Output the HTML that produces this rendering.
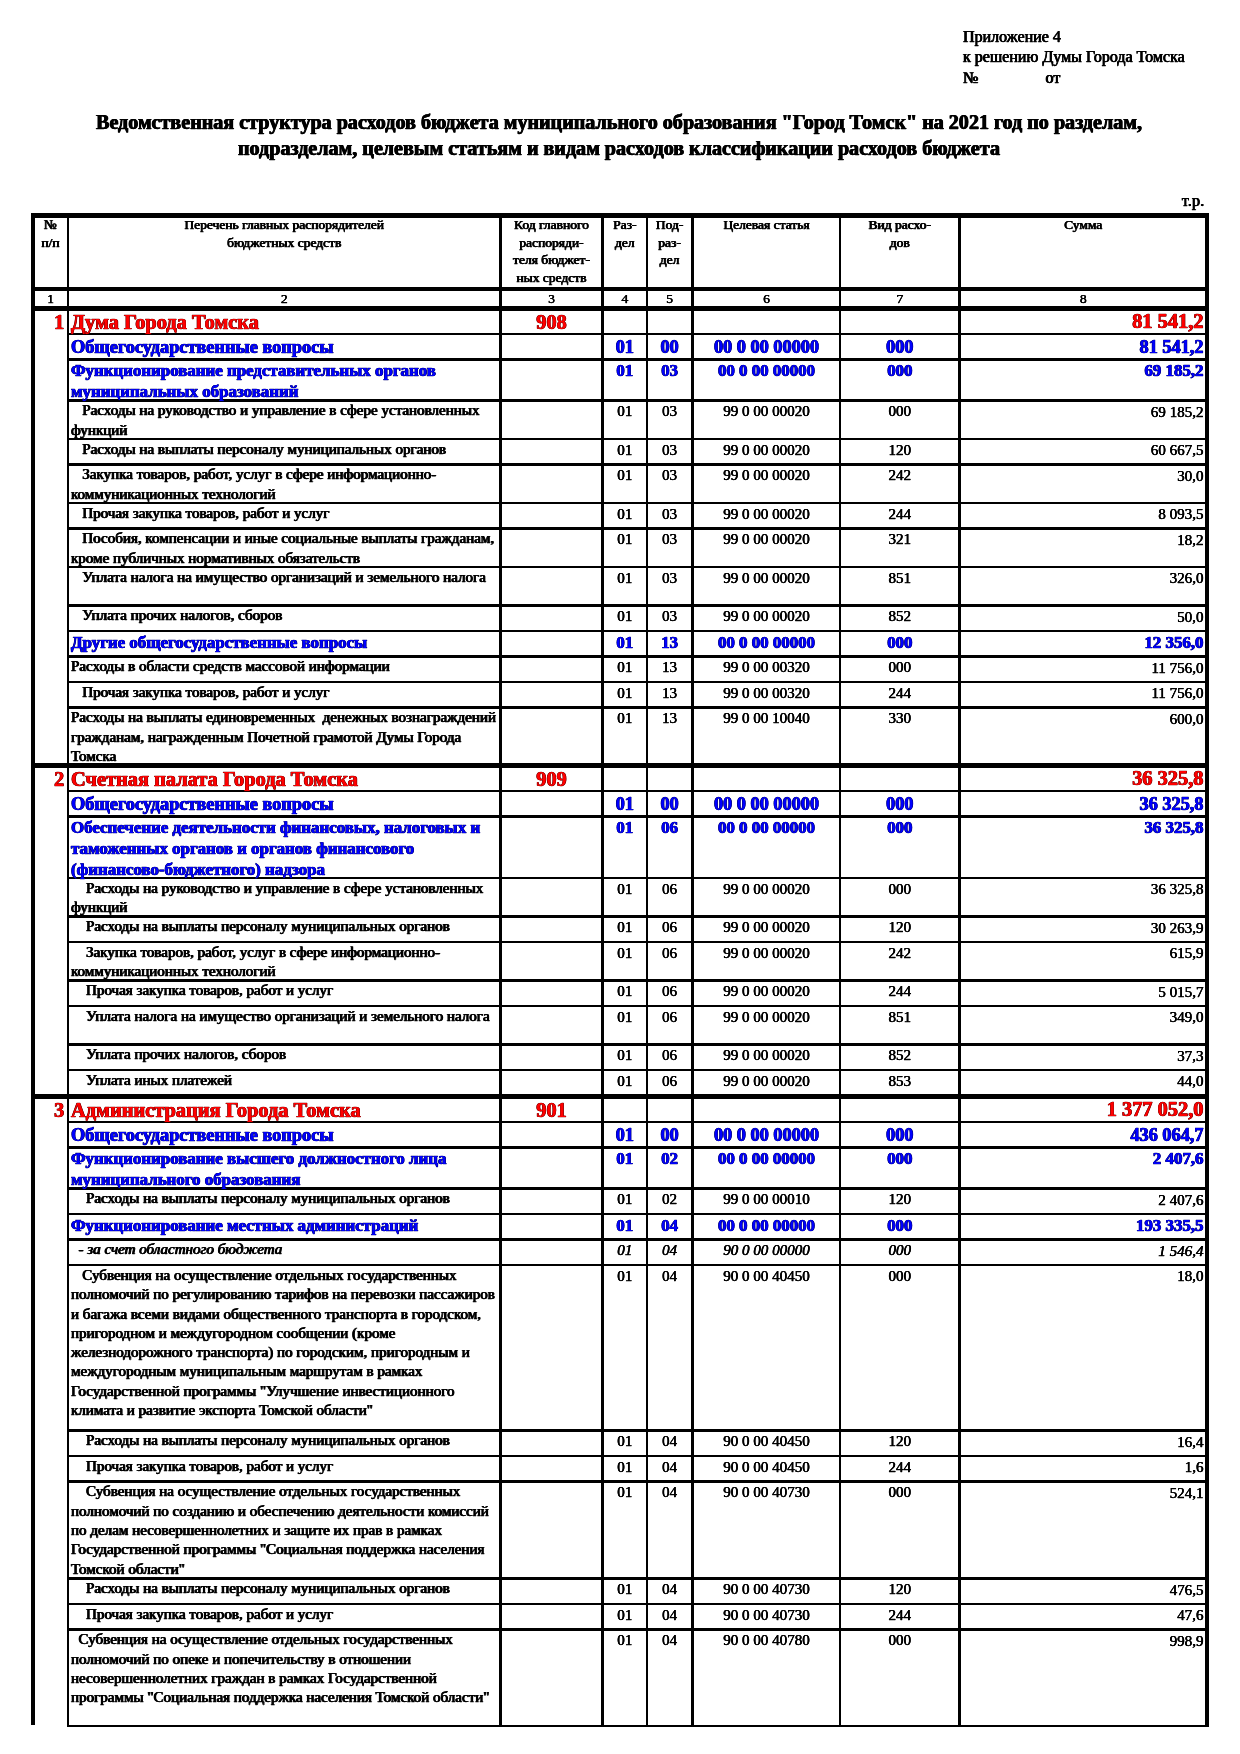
<!DOCTYPE html>
<html lang="ru"><head><meta charset="utf-8"><title>Приложение 4</title>
<style>
html,body{margin:0;padding:0;background:#fff;}
body{width:1240px;height:1754px;position:relative;overflow:hidden;font-family:"Liberation Serif",serif;}
.t{position:absolute;white-space:pre;font-family:"Liberation Serif",serif;}
svg{position:absolute;left:0;top:0;}
#tx{position:absolute;left:0;top:0;width:1240px;height:1754px;will-change:transform;}
</style></head><body>
<svg width="1240" height="1754" viewBox="0 0 1240 1754" fill="#000">
<rect x="31.00" y="213.00" width="1178.00" height="5.00"/>
<rect x="31.00" y="287.00" width="1178.00" height="4.00"/>
<rect x="31.00" y="306.00" width="1178.00" height="5.00"/>
<rect x="31.00" y="213.00" width="4.00" height="1512.00"/>
<rect x="67.00" y="213.00" width="2.00" height="1514.00"/>
<rect x="499.00" y="213.00" width="3.00" height="1514.00"/>
<rect x="601.00" y="213.00" width="3.00" height="1514.00"/>
<rect x="646.00" y="213.00" width="2.00" height="1514.00"/>
<rect x="691.00" y="213.00" width="3.00" height="1514.00"/>
<rect x="839.00" y="213.00" width="2.00" height="1514.00"/>
<rect x="958.00" y="213.00" width="3.00" height="1514.00"/>
<rect x="1205.00" y="213.00" width="4.00" height="1514.00"/>
<rect x="67.00" y="333.00" width="1142.00" height="2.00"/>
<rect x="67.00" y="358.00" width="1142.00" height="3.00"/>
<rect x="67.00" y="399.00" width="1142.00" height="3.00"/>
<rect x="67.00" y="438.00" width="1142.00" height="2.00"/>
<rect x="67.00" y="463.00" width="1142.00" height="3.00"/>
<rect x="67.00" y="502.00" width="1142.00" height="2.00"/>
<rect x="67.00" y="527.00" width="1142.00" height="3.00"/>
<rect x="67.00" y="566.00" width="1142.00" height="2.00"/>
<rect x="67.00" y="604.00" width="1142.00" height="3.00"/>
<rect x="67.00" y="630.00" width="1142.00" height="2.00"/>
<rect x="67.00" y="655.00" width="1142.00" height="3.00"/>
<rect x="67.00" y="681.00" width="1142.00" height="2.00"/>
<rect x="67.00" y="706.00" width="1142.00" height="3.00"/>
<rect x="31.00" y="763.00" width="1178.00" height="5.00"/>
<rect x="67.00" y="790.00" width="1142.00" height="2.00"/>
<rect x="67.00" y="815.00" width="1142.00" height="3.00"/>
<rect x="67.00" y="877.00" width="1142.00" height="2.00"/>
<rect x="67.00" y="915.00" width="1142.00" height="3.00"/>
<rect x="67.00" y="941.00" width="1142.00" height="2.00"/>
<rect x="67.00" y="979.00" width="1142.00" height="3.00"/>
<rect x="67.00" y="1005.00" width="1142.00" height="2.00"/>
<rect x="67.00" y="1043.00" width="1142.00" height="3.00"/>
<rect x="67.00" y="1069.00" width="1142.00" height="2.00"/>
<rect x="31.00" y="1094.00" width="1178.00" height="5.00"/>
<rect x="67.00" y="1121.00" width="1142.00" height="2.00"/>
<rect x="67.00" y="1146.00" width="1142.00" height="3.00"/>
<rect x="67.00" y="1187.00" width="1142.00" height="3.00"/>
<rect x="67.00" y="1213.00" width="1142.00" height="2.00"/>
<rect x="67.00" y="1238.00" width="1142.00" height="3.00"/>
<rect x="67.00" y="1264.00" width="1142.00" height="2.00"/>
<rect x="67.00" y="1429.00" width="1142.00" height="3.00"/>
<rect x="67.00" y="1455.00" width="1142.00" height="2.00"/>
<rect x="67.00" y="1480.00" width="1142.00" height="3.00"/>
<rect x="67.00" y="1577.00" width="1142.00" height="3.00"/>
<rect x="67.00" y="1603.00" width="1142.00" height="2.00"/>
<rect x="67.00" y="1628.00" width="1142.00" height="3.00"/>
<rect x="67.00" y="1725.00" width="1142.00" height="2.00"/>
</svg>
<div id="tx">
<div class="t " style="top:217.14px;font-size:13.5px;line-height:16.20px;color:#000;text-shadow:0.45px 0 0 #000,-0.45px 0 0 #000;-webkit-text-stroke:0.25px #000;left:-649.50px;width:1400px;text-align:center;">№</div>
<div class="t " style="top:234.74px;font-size:13.5px;line-height:16.20px;color:#000;text-shadow:0.45px 0 0 #000,-0.45px 0 0 #000;-webkit-text-stroke:0.25px #000;left:-649.50px;width:1400px;text-align:center;">п/п</div>
<div class="t " style="top:217.14px;font-size:13.5px;line-height:16.20px;color:#000;text-shadow:0.45px 0 0 #000,-0.45px 0 0 #000;-webkit-text-stroke:0.25px #000;left:-415.75px;width:1400px;text-align:center;">Перечень главных распорядителей</div>
<div class="t " style="top:234.74px;font-size:13.5px;line-height:16.20px;color:#000;text-shadow:0.45px 0 0 #000,-0.45px 0 0 #000;-webkit-text-stroke:0.25px #000;left:-415.75px;width:1400px;text-align:center;">бюджетных средств</div>
<div class="t " style="top:217.14px;font-size:13.5px;line-height:16.20px;color:#000;text-shadow:0.45px 0 0 #000,-0.45px 0 0 #000;-webkit-text-stroke:0.25px #000;left:-148.50px;width:1400px;text-align:center;">Код главного</div>
<div class="t " style="top:234.74px;font-size:13.5px;line-height:16.20px;color:#000;text-shadow:0.45px 0 0 #000,-0.45px 0 0 #000;-webkit-text-stroke:0.25px #000;left:-148.50px;width:1400px;text-align:center;">распоряди-</div>
<div class="t " style="top:252.34px;font-size:13.5px;line-height:16.20px;color:#000;text-shadow:0.45px 0 0 #000,-0.45px 0 0 #000;-webkit-text-stroke:0.25px #000;left:-148.50px;width:1400px;text-align:center;">теля бюджет-</div>
<div class="t " style="top:269.94px;font-size:13.5px;line-height:16.20px;color:#000;text-shadow:0.45px 0 0 #000,-0.45px 0 0 #000;-webkit-text-stroke:0.25px #000;left:-148.50px;width:1400px;text-align:center;">ных средств</div>
<div class="t " style="top:217.14px;font-size:13.5px;line-height:16.20px;color:#000;text-shadow:0.45px 0 0 #000,-0.45px 0 0 #000;-webkit-text-stroke:0.25px #000;left:-75.20px;width:1400px;text-align:center;">Раз-</div>
<div class="t " style="top:234.74px;font-size:13.5px;line-height:16.20px;color:#000;text-shadow:0.45px 0 0 #000,-0.45px 0 0 #000;-webkit-text-stroke:0.25px #000;left:-75.20px;width:1400px;text-align:center;">дел</div>
<div class="t " style="top:217.14px;font-size:13.5px;line-height:16.20px;color:#000;text-shadow:0.45px 0 0 #000,-0.45px 0 0 #000;-webkit-text-stroke:0.25px #000;left:-30.40px;width:1400px;text-align:center;">Под-</div>
<div class="t " style="top:234.74px;font-size:13.5px;line-height:16.20px;color:#000;text-shadow:0.45px 0 0 #000,-0.45px 0 0 #000;-webkit-text-stroke:0.25px #000;left:-30.40px;width:1400px;text-align:center;">раз-</div>
<div class="t " style="top:252.34px;font-size:13.5px;line-height:16.20px;color:#000;text-shadow:0.45px 0 0 #000,-0.45px 0 0 #000;-webkit-text-stroke:0.25px #000;left:-30.40px;width:1400px;text-align:center;">дел</div>
<div class="t " style="top:217.14px;font-size:13.5px;line-height:16.20px;color:#000;text-shadow:0.45px 0 0 #000,-0.45px 0 0 #000;-webkit-text-stroke:0.25px #000;left:66.50px;width:1400px;text-align:center;">Целевая статья</div>
<div class="t " style="top:217.14px;font-size:13.5px;line-height:16.20px;color:#000;text-shadow:0.45px 0 0 #000,-0.45px 0 0 #000;-webkit-text-stroke:0.25px #000;left:199.80px;width:1400px;text-align:center;">Вид расхо-</div>
<div class="t " style="top:234.74px;font-size:13.5px;line-height:16.20px;color:#000;text-shadow:0.45px 0 0 #000,-0.45px 0 0 #000;-webkit-text-stroke:0.25px #000;left:199.80px;width:1400px;text-align:center;">дов</div>
<div class="t " style="top:217.14px;font-size:13.5px;line-height:16.20px;color:#000;text-shadow:0.45px 0 0 #000,-0.45px 0 0 #000;-webkit-text-stroke:0.25px #000;left:383.25px;width:1400px;text-align:center;">Сумма</div>
<div class="t " style="top:290.64px;font-size:13.5px;line-height:16.20px;color:#000;text-shadow:0.23px 0 0 #000,-0.23px 0 0 #000;-webkit-text-stroke:0.25px #000;left:-649.50px;width:1400px;text-align:center;">1</div>
<div class="t " style="top:290.64px;font-size:13.5px;line-height:16.20px;color:#000;text-shadow:0.23px 0 0 #000,-0.23px 0 0 #000;-webkit-text-stroke:0.25px #000;left:-415.75px;width:1400px;text-align:center;">2</div>
<div class="t " style="top:290.64px;font-size:13.5px;line-height:16.20px;color:#000;text-shadow:0.23px 0 0 #000,-0.23px 0 0 #000;-webkit-text-stroke:0.25px #000;left:-148.50px;width:1400px;text-align:center;">3</div>
<div class="t " style="top:290.64px;font-size:13.5px;line-height:16.20px;color:#000;text-shadow:0.23px 0 0 #000,-0.23px 0 0 #000;-webkit-text-stroke:0.25px #000;left:-75.20px;width:1400px;text-align:center;">4</div>
<div class="t " style="top:290.64px;font-size:13.5px;line-height:16.20px;color:#000;text-shadow:0.23px 0 0 #000,-0.23px 0 0 #000;-webkit-text-stroke:0.25px #000;left:-30.40px;width:1400px;text-align:center;">5</div>
<div class="t " style="top:290.64px;font-size:13.5px;line-height:16.20px;color:#000;text-shadow:0.23px 0 0 #000,-0.23px 0 0 #000;-webkit-text-stroke:0.25px #000;left:66.50px;width:1400px;text-align:center;">6</div>
<div class="t " style="top:290.64px;font-size:13.5px;line-height:16.20px;color:#000;text-shadow:0.23px 0 0 #000,-0.23px 0 0 #000;-webkit-text-stroke:0.25px #000;left:199.80px;width:1400px;text-align:center;">7</div>
<div class="t " style="top:290.64px;font-size:13.5px;line-height:16.20px;color:#000;text-shadow:0.23px 0 0 #000,-0.23px 0 0 #000;-webkit-text-stroke:0.25px #000;left:383.25px;width:1400px;text-align:center;">8</div>
<div class="t " style="top:27.00px;font-size:16px;line-height:19.20px;color:#000;text-shadow:0.40px 0 0 #000,-0.40px 0 0 #000;-webkit-text-stroke:0.25px #000;left:963.00px;">Приложение 4</div>
<div class="t " style="top:46.80px;font-size:16px;line-height:19.20px;color:#000;text-shadow:0.40px 0 0 #000,-0.40px 0 0 #000;-webkit-text-stroke:0.25px #000;left:963.00px;">к решению Думы Города Томска</div>
<div class="t " style="top:67.50px;font-size:16px;line-height:19.20px;color:#000;text-shadow:0.40px 0 0 #000,-0.40px 0 0 #000;-webkit-text-stroke:0.25px #000;left:963.00px;">№</div>
<div class="t " style="top:67.50px;font-size:16px;line-height:19.20px;color:#000;text-shadow:0.40px 0 0 #000,-0.40px 0 0 #000;-webkit-text-stroke:0.25px #000;left:1045.50px;">от</div>
<div class="t " style="top:110.16px;font-size:20.1px;line-height:24.12px;color:#000;font-weight:bold;text-shadow:0.50px 0 0 #000,-0.50px 0 0 #000;-webkit-text-stroke:0.25px #000;left:-81.00px;width:1400px;text-align:center;">Ведомственная структура расходов бюджета муниципального образования &quot;Город Томск&quot; на 2021 год по разделам,</div>
<div class="t " style="top:136.16px;font-size:20.1px;line-height:24.12px;color:#000;font-weight:bold;text-shadow:0.50px 0 0 #000,-0.50px 0 0 #000;-webkit-text-stroke:0.25px #000;left:-81.00px;width:1400px;text-align:center;">подразделам, целевым статьям и видам расходов классификации расходов бюджета</div>
<div class="t " style="top:191.04px;font-size:16.6px;line-height:19.92px;color:#000;text-shadow:0.30px 0 0 #000,-0.30px 0 0 #000;-webkit-text-stroke:0.25px #000;right:35.70px;">т.р.</div>
<div class="t " style="top:309.98px;font-size:20.4px;line-height:24.48px;color:#ff0000;font-weight:bold;text-shadow:0.45px 0 0 #700000,-0.45px 0 0 #700000;-webkit-text-stroke:0.6px #700000;paint-order:stroke fill;right:1175.70px;">1</div>
<div class="t " style="top:309.98px;font-size:20.4px;line-height:24.48px;color:#ff0000;font-weight:bold;text-shadow:0.45px 0 0 #700000,-0.45px 0 0 #700000;-webkit-text-stroke:0.6px #700000;paint-order:stroke fill;left:71.00px;">Дума Города Томска</div>
<div class="t " style="top:309.98px;font-size:20.4px;line-height:24.48px;color:#ff0000;font-weight:bold;text-shadow:0.45px 0 0 #700000,-0.45px 0 0 #700000;-webkit-text-stroke:0.6px #700000;paint-order:stroke fill;left:-148.50px;width:1400px;text-align:center;">908</div>
<div class="t " style="top:309.38px;font-size:20.4px;line-height:24.48px;color:#ff0000;font-weight:bold;text-shadow:0.45px 0 0 #700000,-0.45px 0 0 #700000;-webkit-text-stroke:0.6px #700000;paint-order:stroke fill;right:36.50px;">81 541,2</div>
<div class="t " style="top:337.34px;font-size:18.3px;line-height:21.96px;color:#0000ff;font-weight:bold;text-shadow:0.45px 0 0 #000070,-0.45px 0 0 #000070;-webkit-text-stroke:0.6px #000070;paint-order:stroke fill;left:71.00px;">Общегосударственные вопросы</div>
<div class="t " style="top:336.54px;font-size:18.3px;line-height:21.96px;color:#0000ff;font-weight:bold;text-shadow:0.45px 0 0 #000070,-0.45px 0 0 #000070;-webkit-text-stroke:0.6px #000070;paint-order:stroke fill;left:-75.20px;width:1400px;text-align:center;">01</div>
<div class="t " style="top:336.54px;font-size:18.3px;line-height:21.96px;color:#0000ff;font-weight:bold;text-shadow:0.45px 0 0 #000070,-0.45px 0 0 #000070;-webkit-text-stroke:0.6px #000070;paint-order:stroke fill;left:-30.40px;width:1400px;text-align:center;">00</div>
<div class="t " style="top:336.54px;font-size:18.3px;line-height:21.96px;color:#0000ff;font-weight:bold;text-shadow:0.45px 0 0 #000070,-0.45px 0 0 #000070;-webkit-text-stroke:0.6px #000070;paint-order:stroke fill;left:66.50px;width:1400px;text-align:center;">00 0 00 00000</div>
<div class="t " style="top:336.54px;font-size:18.3px;line-height:21.96px;color:#0000ff;font-weight:bold;text-shadow:0.45px 0 0 #000070,-0.45px 0 0 #000070;-webkit-text-stroke:0.6px #000070;paint-order:stroke fill;left:199.80px;width:1400px;text-align:center;">000</div>
<div class="t " style="top:337.04px;font-size:18.3px;line-height:21.96px;color:#0000ff;font-weight:bold;text-shadow:0.45px 0 0 #000070,-0.45px 0 0 #000070;-webkit-text-stroke:0.6px #000070;paint-order:stroke fill;right:36.50px;">81 541,2</div>
<div class="t " style="top:361.46px;font-size:16.9px;line-height:20.28px;color:#0000ff;font-weight:bold;text-shadow:0.45px 0 0 #000070,-0.45px 0 0 #000070;-webkit-text-stroke:0.6px #000070;paint-order:stroke fill;left:71.00px;">Функционирование представительных органов</div>
<div class="t " style="top:382.21px;font-size:16.9px;line-height:20.28px;color:#0000ff;font-weight:bold;text-shadow:0.45px 0 0 #000070,-0.45px 0 0 #000070;-webkit-text-stroke:0.6px #000070;paint-order:stroke fill;left:71.00px;">муниципальных образований</div>
<div class="t " style="top:361.46px;font-size:16.9px;line-height:20.28px;color:#0000ff;font-weight:bold;text-shadow:0.45px 0 0 #000070,-0.45px 0 0 #000070;-webkit-text-stroke:0.6px #000070;paint-order:stroke fill;left:-75.20px;width:1400px;text-align:center;">01</div>
<div class="t " style="top:361.46px;font-size:16.9px;line-height:20.28px;color:#0000ff;font-weight:bold;text-shadow:0.45px 0 0 #000070,-0.45px 0 0 #000070;-webkit-text-stroke:0.6px #000070;paint-order:stroke fill;left:-30.40px;width:1400px;text-align:center;">03</div>
<div class="t " style="top:361.46px;font-size:16.9px;line-height:20.28px;color:#0000ff;font-weight:bold;text-shadow:0.45px 0 0 #000070,-0.45px 0 0 #000070;-webkit-text-stroke:0.6px #000070;paint-order:stroke fill;left:66.50px;width:1400px;text-align:center;">00 0 00 00000</div>
<div class="t " style="top:361.46px;font-size:16.9px;line-height:20.28px;color:#0000ff;font-weight:bold;text-shadow:0.45px 0 0 #000070,-0.45px 0 0 #000070;-webkit-text-stroke:0.6px #000070;paint-order:stroke fill;left:199.80px;width:1400px;text-align:center;">000</div>
<div class="t " style="top:361.46px;font-size:16.9px;line-height:20.28px;color:#0000ff;font-weight:bold;text-shadow:0.45px 0 0 #000070,-0.45px 0 0 #000070;-webkit-text-stroke:0.6px #000070;paint-order:stroke fill;right:36.50px;">69 185,2</div>
<div class="t " style="top:401.49px;font-size:15.05px;line-height:18.06px;color:#000;text-shadow:0.55px 0 0 #000,-0.55px 0 0 #000;-webkit-text-stroke:0.25px #000;left:71.00px;">   Расходы на руководство и управление в сфере установленных</div>
<div class="t " style="top:420.79px;font-size:15.05px;line-height:18.06px;color:#000;text-shadow:0.55px 0 0 #000,-0.55px 0 0 #000;-webkit-text-stroke:0.25px #000;left:71.00px;">функций</div>
<div class="t " style="top:402.19px;font-size:15.05px;line-height:18.06px;color:#000;text-shadow:0.17px 0 0 #000,-0.17px 0 0 #000;-webkit-text-stroke:0.25px #000;left:-75.20px;width:1400px;text-align:center;">01</div>
<div class="t " style="top:402.19px;font-size:15.05px;line-height:18.06px;color:#000;text-shadow:0.17px 0 0 #000,-0.17px 0 0 #000;-webkit-text-stroke:0.25px #000;left:-30.40px;width:1400px;text-align:center;">03</div>
<div class="t " style="top:402.19px;font-size:15.05px;line-height:18.06px;color:#000;text-shadow:0.17px 0 0 #000,-0.17px 0 0 #000;-webkit-text-stroke:0.25px #000;left:66.50px;width:1400px;text-align:center;">99 0 00 00020</div>
<div class="t " style="top:402.19px;font-size:15.05px;line-height:18.06px;color:#000;text-shadow:0.17px 0 0 #000,-0.17px 0 0 #000;-webkit-text-stroke:0.25px #000;left:199.80px;width:1400px;text-align:center;">000</div>
<div class="t " style="top:402.99px;font-size:15.05px;line-height:18.06px;color:#000;text-shadow:0.17px 0 0 #000,-0.17px 0 0 #000;-webkit-text-stroke:0.25px #000;right:36.50px;">69 185,2</div>
<div class="t " style="top:439.99px;font-size:15.05px;line-height:18.06px;color:#000;text-shadow:0.55px 0 0 #000,-0.55px 0 0 #000;-webkit-text-stroke:0.25px #000;left:71.00px;">   Расходы на выплаты персоналу муниципальных органов</div>
<div class="t " style="top:440.69px;font-size:15.05px;line-height:18.06px;color:#000;text-shadow:0.17px 0 0 #000,-0.17px 0 0 #000;-webkit-text-stroke:0.25px #000;left:-75.20px;width:1400px;text-align:center;">01</div>
<div class="t " style="top:440.69px;font-size:15.05px;line-height:18.06px;color:#000;text-shadow:0.17px 0 0 #000,-0.17px 0 0 #000;-webkit-text-stroke:0.25px #000;left:-30.40px;width:1400px;text-align:center;">03</div>
<div class="t " style="top:440.69px;font-size:15.05px;line-height:18.06px;color:#000;text-shadow:0.17px 0 0 #000,-0.17px 0 0 #000;-webkit-text-stroke:0.25px #000;left:66.50px;width:1400px;text-align:center;">99 0 00 00020</div>
<div class="t " style="top:440.69px;font-size:15.05px;line-height:18.06px;color:#000;text-shadow:0.17px 0 0 #000,-0.17px 0 0 #000;-webkit-text-stroke:0.25px #000;left:199.80px;width:1400px;text-align:center;">120</div>
<div class="t " style="top:441.49px;font-size:15.05px;line-height:18.06px;color:#000;text-shadow:0.17px 0 0 #000,-0.17px 0 0 #000;-webkit-text-stroke:0.25px #000;right:36.50px;">60 667,5</div>
<div class="t " style="top:465.49px;font-size:15.05px;line-height:18.06px;color:#000;text-shadow:0.55px 0 0 #000,-0.55px 0 0 #000;-webkit-text-stroke:0.25px #000;left:71.00px;">   Закупка товаров, работ, услуг в сфере информационно-</div>
<div class="t " style="top:484.79px;font-size:15.05px;line-height:18.06px;color:#000;text-shadow:0.55px 0 0 #000,-0.55px 0 0 #000;-webkit-text-stroke:0.25px #000;left:71.00px;">коммуникационных технологий</div>
<div class="t " style="top:466.19px;font-size:15.05px;line-height:18.06px;color:#000;text-shadow:0.17px 0 0 #000,-0.17px 0 0 #000;-webkit-text-stroke:0.25px #000;left:-75.20px;width:1400px;text-align:center;">01</div>
<div class="t " style="top:466.19px;font-size:15.05px;line-height:18.06px;color:#000;text-shadow:0.17px 0 0 #000,-0.17px 0 0 #000;-webkit-text-stroke:0.25px #000;left:-30.40px;width:1400px;text-align:center;">03</div>
<div class="t " style="top:466.19px;font-size:15.05px;line-height:18.06px;color:#000;text-shadow:0.17px 0 0 #000,-0.17px 0 0 #000;-webkit-text-stroke:0.25px #000;left:66.50px;width:1400px;text-align:center;">99 0 00 00020</div>
<div class="t " style="top:466.19px;font-size:15.05px;line-height:18.06px;color:#000;text-shadow:0.17px 0 0 #000,-0.17px 0 0 #000;-webkit-text-stroke:0.25px #000;left:199.80px;width:1400px;text-align:center;">242</div>
<div class="t " style="top:466.99px;font-size:15.05px;line-height:18.06px;color:#000;text-shadow:0.17px 0 0 #000,-0.17px 0 0 #000;-webkit-text-stroke:0.25px #000;right:36.50px;">30,0</div>
<div class="t " style="top:503.99px;font-size:15.05px;line-height:18.06px;color:#000;text-shadow:0.55px 0 0 #000,-0.55px 0 0 #000;-webkit-text-stroke:0.25px #000;left:71.00px;">   Прочая закупка товаров, работ и услуг</div>
<div class="t " style="top:504.69px;font-size:15.05px;line-height:18.06px;color:#000;text-shadow:0.17px 0 0 #000,-0.17px 0 0 #000;-webkit-text-stroke:0.25px #000;left:-75.20px;width:1400px;text-align:center;">01</div>
<div class="t " style="top:504.69px;font-size:15.05px;line-height:18.06px;color:#000;text-shadow:0.17px 0 0 #000,-0.17px 0 0 #000;-webkit-text-stroke:0.25px #000;left:-30.40px;width:1400px;text-align:center;">03</div>
<div class="t " style="top:504.69px;font-size:15.05px;line-height:18.06px;color:#000;text-shadow:0.17px 0 0 #000,-0.17px 0 0 #000;-webkit-text-stroke:0.25px #000;left:66.50px;width:1400px;text-align:center;">99 0 00 00020</div>
<div class="t " style="top:504.69px;font-size:15.05px;line-height:18.06px;color:#000;text-shadow:0.17px 0 0 #000,-0.17px 0 0 #000;-webkit-text-stroke:0.25px #000;left:199.80px;width:1400px;text-align:center;">244</div>
<div class="t " style="top:505.49px;font-size:15.05px;line-height:18.06px;color:#000;text-shadow:0.17px 0 0 #000,-0.17px 0 0 #000;-webkit-text-stroke:0.25px #000;right:36.50px;">8 093,5</div>
<div class="t " style="top:529.49px;font-size:15.05px;line-height:18.06px;color:#000;text-shadow:0.55px 0 0 #000,-0.55px 0 0 #000;-webkit-text-stroke:0.25px #000;left:71.00px;">   Пособия, компенсации и иные социальные выплаты гражданам,</div>
<div class="t " style="top:548.79px;font-size:15.05px;line-height:18.06px;color:#000;text-shadow:0.55px 0 0 #000,-0.55px 0 0 #000;-webkit-text-stroke:0.25px #000;left:71.00px;">кроме публичных нормативных обязательств</div>
<div class="t " style="top:530.19px;font-size:15.05px;line-height:18.06px;color:#000;text-shadow:0.17px 0 0 #000,-0.17px 0 0 #000;-webkit-text-stroke:0.25px #000;left:-75.20px;width:1400px;text-align:center;">01</div>
<div class="t " style="top:530.19px;font-size:15.05px;line-height:18.06px;color:#000;text-shadow:0.17px 0 0 #000,-0.17px 0 0 #000;-webkit-text-stroke:0.25px #000;left:-30.40px;width:1400px;text-align:center;">03</div>
<div class="t " style="top:530.19px;font-size:15.05px;line-height:18.06px;color:#000;text-shadow:0.17px 0 0 #000,-0.17px 0 0 #000;-webkit-text-stroke:0.25px #000;left:66.50px;width:1400px;text-align:center;">99 0 00 00020</div>
<div class="t " style="top:530.19px;font-size:15.05px;line-height:18.06px;color:#000;text-shadow:0.17px 0 0 #000,-0.17px 0 0 #000;-webkit-text-stroke:0.25px #000;left:199.80px;width:1400px;text-align:center;">321</div>
<div class="t " style="top:530.99px;font-size:15.05px;line-height:18.06px;color:#000;text-shadow:0.17px 0 0 #000,-0.17px 0 0 #000;-webkit-text-stroke:0.25px #000;right:36.50px;">18,2</div>
<div class="t " style="top:567.99px;font-size:15.05px;line-height:18.06px;color:#000;text-shadow:0.55px 0 0 #000,-0.55px 0 0 #000;-webkit-text-stroke:0.25px #000;left:71.00px;">   Уплата налога на имущество организаций и земельного налога</div>
<div class="t " style="top:568.69px;font-size:15.05px;line-height:18.06px;color:#000;text-shadow:0.17px 0 0 #000,-0.17px 0 0 #000;-webkit-text-stroke:0.25px #000;left:-75.20px;width:1400px;text-align:center;">01</div>
<div class="t " style="top:568.69px;font-size:15.05px;line-height:18.06px;color:#000;text-shadow:0.17px 0 0 #000,-0.17px 0 0 #000;-webkit-text-stroke:0.25px #000;left:-30.40px;width:1400px;text-align:center;">03</div>
<div class="t " style="top:568.69px;font-size:15.05px;line-height:18.06px;color:#000;text-shadow:0.17px 0 0 #000,-0.17px 0 0 #000;-webkit-text-stroke:0.25px #000;left:66.50px;width:1400px;text-align:center;">99 0 00 00020</div>
<div class="t " style="top:568.69px;font-size:15.05px;line-height:18.06px;color:#000;text-shadow:0.17px 0 0 #000,-0.17px 0 0 #000;-webkit-text-stroke:0.25px #000;left:199.80px;width:1400px;text-align:center;">851</div>
<div class="t " style="top:569.49px;font-size:15.05px;line-height:18.06px;color:#000;text-shadow:0.17px 0 0 #000,-0.17px 0 0 #000;-webkit-text-stroke:0.25px #000;right:36.50px;">326,0</div>
<div class="t " style="top:606.49px;font-size:15.05px;line-height:18.06px;color:#000;text-shadow:0.55px 0 0 #000,-0.55px 0 0 #000;-webkit-text-stroke:0.25px #000;left:71.00px;">   Уплата прочих налогов, сборов</div>
<div class="t " style="top:607.19px;font-size:15.05px;line-height:18.06px;color:#000;text-shadow:0.17px 0 0 #000,-0.17px 0 0 #000;-webkit-text-stroke:0.25px #000;left:-75.20px;width:1400px;text-align:center;">01</div>
<div class="t " style="top:607.19px;font-size:15.05px;line-height:18.06px;color:#000;text-shadow:0.17px 0 0 #000,-0.17px 0 0 #000;-webkit-text-stroke:0.25px #000;left:-30.40px;width:1400px;text-align:center;">03</div>
<div class="t " style="top:607.19px;font-size:15.05px;line-height:18.06px;color:#000;text-shadow:0.17px 0 0 #000,-0.17px 0 0 #000;-webkit-text-stroke:0.25px #000;left:66.50px;width:1400px;text-align:center;">99 0 00 00020</div>
<div class="t " style="top:607.19px;font-size:15.05px;line-height:18.06px;color:#000;text-shadow:0.17px 0 0 #000,-0.17px 0 0 #000;-webkit-text-stroke:0.25px #000;left:199.80px;width:1400px;text-align:center;">852</div>
<div class="t " style="top:607.99px;font-size:15.05px;line-height:18.06px;color:#000;text-shadow:0.17px 0 0 #000,-0.17px 0 0 #000;-webkit-text-stroke:0.25px #000;right:36.50px;">50,0</div>
<div class="t " style="top:632.96px;font-size:16.9px;line-height:20.28px;color:#0000ff;font-weight:bold;text-shadow:0.45px 0 0 #000070,-0.45px 0 0 #000070;-webkit-text-stroke:0.6px #000070;paint-order:stroke fill;left:71.00px;">Другие общегосударственные вопросы</div>
<div class="t " style="top:632.96px;font-size:16.9px;line-height:20.28px;color:#0000ff;font-weight:bold;text-shadow:0.45px 0 0 #000070,-0.45px 0 0 #000070;-webkit-text-stroke:0.6px #000070;paint-order:stroke fill;left:-75.20px;width:1400px;text-align:center;">01</div>
<div class="t " style="top:632.96px;font-size:16.9px;line-height:20.28px;color:#0000ff;font-weight:bold;text-shadow:0.45px 0 0 #000070,-0.45px 0 0 #000070;-webkit-text-stroke:0.6px #000070;paint-order:stroke fill;left:-30.40px;width:1400px;text-align:center;">13</div>
<div class="t " style="top:632.96px;font-size:16.9px;line-height:20.28px;color:#0000ff;font-weight:bold;text-shadow:0.45px 0 0 #000070,-0.45px 0 0 #000070;-webkit-text-stroke:0.6px #000070;paint-order:stroke fill;left:66.50px;width:1400px;text-align:center;">00 0 00 00000</div>
<div class="t " style="top:632.96px;font-size:16.9px;line-height:20.28px;color:#0000ff;font-weight:bold;text-shadow:0.45px 0 0 #000070,-0.45px 0 0 #000070;-webkit-text-stroke:0.6px #000070;paint-order:stroke fill;left:199.80px;width:1400px;text-align:center;">000</div>
<div class="t " style="top:632.96px;font-size:16.9px;line-height:20.28px;color:#0000ff;font-weight:bold;text-shadow:0.45px 0 0 #000070,-0.45px 0 0 #000070;-webkit-text-stroke:0.6px #000070;paint-order:stroke fill;right:36.50px;">12 356,0</div>
<div class="t " style="top:657.49px;font-size:15.05px;line-height:18.06px;color:#000;text-shadow:0.55px 0 0 #000,-0.55px 0 0 #000;-webkit-text-stroke:0.25px #000;left:71.00px;">Расходы в области средств массовой информации</div>
<div class="t " style="top:658.19px;font-size:15.05px;line-height:18.06px;color:#000;text-shadow:0.17px 0 0 #000,-0.17px 0 0 #000;-webkit-text-stroke:0.25px #000;left:-75.20px;width:1400px;text-align:center;">01</div>
<div class="t " style="top:658.19px;font-size:15.05px;line-height:18.06px;color:#000;text-shadow:0.17px 0 0 #000,-0.17px 0 0 #000;-webkit-text-stroke:0.25px #000;left:-30.40px;width:1400px;text-align:center;">13</div>
<div class="t " style="top:658.19px;font-size:15.05px;line-height:18.06px;color:#000;text-shadow:0.17px 0 0 #000,-0.17px 0 0 #000;-webkit-text-stroke:0.25px #000;left:66.50px;width:1400px;text-align:center;">99 0 00 00320</div>
<div class="t " style="top:658.19px;font-size:15.05px;line-height:18.06px;color:#000;text-shadow:0.17px 0 0 #000,-0.17px 0 0 #000;-webkit-text-stroke:0.25px #000;left:199.80px;width:1400px;text-align:center;">000</div>
<div class="t " style="top:658.99px;font-size:15.05px;line-height:18.06px;color:#000;text-shadow:0.17px 0 0 #000,-0.17px 0 0 #000;-webkit-text-stroke:0.25px #000;right:36.50px;">11 756,0</div>
<div class="t " style="top:682.99px;font-size:15.05px;line-height:18.06px;color:#000;text-shadow:0.55px 0 0 #000,-0.55px 0 0 #000;-webkit-text-stroke:0.25px #000;left:71.00px;">   Прочая закупка товаров, работ и услуг</div>
<div class="t " style="top:683.69px;font-size:15.05px;line-height:18.06px;color:#000;text-shadow:0.17px 0 0 #000,-0.17px 0 0 #000;-webkit-text-stroke:0.25px #000;left:-75.20px;width:1400px;text-align:center;">01</div>
<div class="t " style="top:683.69px;font-size:15.05px;line-height:18.06px;color:#000;text-shadow:0.17px 0 0 #000,-0.17px 0 0 #000;-webkit-text-stroke:0.25px #000;left:-30.40px;width:1400px;text-align:center;">13</div>
<div class="t " style="top:683.69px;font-size:15.05px;line-height:18.06px;color:#000;text-shadow:0.17px 0 0 #000,-0.17px 0 0 #000;-webkit-text-stroke:0.25px #000;left:66.50px;width:1400px;text-align:center;">99 0 00 00320</div>
<div class="t " style="top:683.69px;font-size:15.05px;line-height:18.06px;color:#000;text-shadow:0.17px 0 0 #000,-0.17px 0 0 #000;-webkit-text-stroke:0.25px #000;left:199.80px;width:1400px;text-align:center;">244</div>
<div class="t " style="top:684.49px;font-size:15.05px;line-height:18.06px;color:#000;text-shadow:0.17px 0 0 #000,-0.17px 0 0 #000;-webkit-text-stroke:0.25px #000;right:36.50px;">11 756,0</div>
<div class="t " style="top:708.49px;font-size:15.05px;line-height:18.06px;color:#000;text-shadow:0.55px 0 0 #000,-0.55px 0 0 #000;-webkit-text-stroke:0.25px #000;left:71.00px;">Расходы на выплаты единовременных  денежных вознаграждений</div>
<div class="t " style="top:727.79px;font-size:15.05px;line-height:18.06px;color:#000;text-shadow:0.55px 0 0 #000,-0.55px 0 0 #000;-webkit-text-stroke:0.25px #000;left:71.00px;">гражданам, награжденным Почетной грамотой Думы Города</div>
<div class="t " style="top:747.09px;font-size:15.05px;line-height:18.06px;color:#000;text-shadow:0.55px 0 0 #000,-0.55px 0 0 #000;-webkit-text-stroke:0.25px #000;left:71.00px;">Томска</div>
<div class="t " style="top:709.19px;font-size:15.05px;line-height:18.06px;color:#000;text-shadow:0.17px 0 0 #000,-0.17px 0 0 #000;-webkit-text-stroke:0.25px #000;left:-75.20px;width:1400px;text-align:center;">01</div>
<div class="t " style="top:709.19px;font-size:15.05px;line-height:18.06px;color:#000;text-shadow:0.17px 0 0 #000,-0.17px 0 0 #000;-webkit-text-stroke:0.25px #000;left:-30.40px;width:1400px;text-align:center;">13</div>
<div class="t " style="top:709.19px;font-size:15.05px;line-height:18.06px;color:#000;text-shadow:0.17px 0 0 #000,-0.17px 0 0 #000;-webkit-text-stroke:0.25px #000;left:66.50px;width:1400px;text-align:center;">99 0 00 10040</div>
<div class="t " style="top:709.19px;font-size:15.05px;line-height:18.06px;color:#000;text-shadow:0.17px 0 0 #000,-0.17px 0 0 #000;-webkit-text-stroke:0.25px #000;left:199.80px;width:1400px;text-align:center;">330</div>
<div class="t " style="top:709.99px;font-size:15.05px;line-height:18.06px;color:#000;text-shadow:0.17px 0 0 #000,-0.17px 0 0 #000;-webkit-text-stroke:0.25px #000;right:36.50px;">600,0</div>
<div class="t " style="top:766.98px;font-size:20.4px;line-height:24.48px;color:#ff0000;font-weight:bold;text-shadow:0.45px 0 0 #700000,-0.45px 0 0 #700000;-webkit-text-stroke:0.6px #700000;paint-order:stroke fill;right:1175.70px;">2</div>
<div class="t " style="top:766.98px;font-size:20.4px;line-height:24.48px;color:#ff0000;font-weight:bold;text-shadow:0.45px 0 0 #700000,-0.45px 0 0 #700000;-webkit-text-stroke:0.6px #700000;paint-order:stroke fill;left:71.00px;">Счетная палата Города Томска</div>
<div class="t " style="top:766.98px;font-size:20.4px;line-height:24.48px;color:#ff0000;font-weight:bold;text-shadow:0.45px 0 0 #700000,-0.45px 0 0 #700000;-webkit-text-stroke:0.6px #700000;paint-order:stroke fill;left:-148.50px;width:1400px;text-align:center;">909</div>
<div class="t " style="top:766.38px;font-size:20.4px;line-height:24.48px;color:#ff0000;font-weight:bold;text-shadow:0.45px 0 0 #700000,-0.45px 0 0 #700000;-webkit-text-stroke:0.6px #700000;paint-order:stroke fill;right:36.50px;">36 325,8</div>
<div class="t " style="top:794.34px;font-size:18.3px;line-height:21.96px;color:#0000ff;font-weight:bold;text-shadow:0.45px 0 0 #000070,-0.45px 0 0 #000070;-webkit-text-stroke:0.6px #000070;paint-order:stroke fill;left:71.00px;">Общегосударственные вопросы</div>
<div class="t " style="top:793.54px;font-size:18.3px;line-height:21.96px;color:#0000ff;font-weight:bold;text-shadow:0.45px 0 0 #000070,-0.45px 0 0 #000070;-webkit-text-stroke:0.6px #000070;paint-order:stroke fill;left:-75.20px;width:1400px;text-align:center;">01</div>
<div class="t " style="top:793.54px;font-size:18.3px;line-height:21.96px;color:#0000ff;font-weight:bold;text-shadow:0.45px 0 0 #000070,-0.45px 0 0 #000070;-webkit-text-stroke:0.6px #000070;paint-order:stroke fill;left:-30.40px;width:1400px;text-align:center;">00</div>
<div class="t " style="top:793.54px;font-size:18.3px;line-height:21.96px;color:#0000ff;font-weight:bold;text-shadow:0.45px 0 0 #000070,-0.45px 0 0 #000070;-webkit-text-stroke:0.6px #000070;paint-order:stroke fill;left:66.50px;width:1400px;text-align:center;">00 0 00 00000</div>
<div class="t " style="top:793.54px;font-size:18.3px;line-height:21.96px;color:#0000ff;font-weight:bold;text-shadow:0.45px 0 0 #000070,-0.45px 0 0 #000070;-webkit-text-stroke:0.6px #000070;paint-order:stroke fill;left:199.80px;width:1400px;text-align:center;">000</div>
<div class="t " style="top:794.04px;font-size:18.3px;line-height:21.96px;color:#0000ff;font-weight:bold;text-shadow:0.45px 0 0 #000070,-0.45px 0 0 #000070;-webkit-text-stroke:0.6px #000070;paint-order:stroke fill;right:36.50px;">36 325,8</div>
<div class="t " style="top:818.46px;font-size:16.9px;line-height:20.28px;color:#0000ff;font-weight:bold;text-shadow:0.45px 0 0 #000070,-0.45px 0 0 #000070;-webkit-text-stroke:0.6px #000070;paint-order:stroke fill;left:71.00px;">Обеспечение деятельности финансовых, налоговых и</div>
<div class="t " style="top:839.21px;font-size:16.9px;line-height:20.28px;color:#0000ff;font-weight:bold;text-shadow:0.45px 0 0 #000070,-0.45px 0 0 #000070;-webkit-text-stroke:0.6px #000070;paint-order:stroke fill;left:71.00px;">таможенных органов и органов финансового</div>
<div class="t " style="top:859.96px;font-size:16.9px;line-height:20.28px;color:#0000ff;font-weight:bold;text-shadow:0.45px 0 0 #000070,-0.45px 0 0 #000070;-webkit-text-stroke:0.6px #000070;paint-order:stroke fill;left:71.00px;">(финансово-бюджетного) надзора</div>
<div class="t " style="top:818.46px;font-size:16.9px;line-height:20.28px;color:#0000ff;font-weight:bold;text-shadow:0.45px 0 0 #000070,-0.45px 0 0 #000070;-webkit-text-stroke:0.6px #000070;paint-order:stroke fill;left:-75.20px;width:1400px;text-align:center;">01</div>
<div class="t " style="top:818.46px;font-size:16.9px;line-height:20.28px;color:#0000ff;font-weight:bold;text-shadow:0.45px 0 0 #000070,-0.45px 0 0 #000070;-webkit-text-stroke:0.6px #000070;paint-order:stroke fill;left:-30.40px;width:1400px;text-align:center;">06</div>
<div class="t " style="top:818.46px;font-size:16.9px;line-height:20.28px;color:#0000ff;font-weight:bold;text-shadow:0.45px 0 0 #000070,-0.45px 0 0 #000070;-webkit-text-stroke:0.6px #000070;paint-order:stroke fill;left:66.50px;width:1400px;text-align:center;">00 0 00 00000</div>
<div class="t " style="top:818.46px;font-size:16.9px;line-height:20.28px;color:#0000ff;font-weight:bold;text-shadow:0.45px 0 0 #000070,-0.45px 0 0 #000070;-webkit-text-stroke:0.6px #000070;paint-order:stroke fill;left:199.80px;width:1400px;text-align:center;">000</div>
<div class="t " style="top:818.46px;font-size:16.9px;line-height:20.28px;color:#0000ff;font-weight:bold;text-shadow:0.45px 0 0 #000070,-0.45px 0 0 #000070;-webkit-text-stroke:0.6px #000070;paint-order:stroke fill;right:36.50px;">36 325,8</div>
<div class="t " style="top:878.99px;font-size:15.05px;line-height:18.06px;color:#000;text-shadow:0.55px 0 0 #000,-0.55px 0 0 #000;-webkit-text-stroke:0.25px #000;left:71.00px;">    Расходы на руководство и управление в сфере установленных</div>
<div class="t " style="top:898.29px;font-size:15.05px;line-height:18.06px;color:#000;text-shadow:0.55px 0 0 #000,-0.55px 0 0 #000;-webkit-text-stroke:0.25px #000;left:71.00px;">функций</div>
<div class="t " style="top:879.69px;font-size:15.05px;line-height:18.06px;color:#000;text-shadow:0.17px 0 0 #000,-0.17px 0 0 #000;-webkit-text-stroke:0.25px #000;left:-75.20px;width:1400px;text-align:center;">01</div>
<div class="t " style="top:879.69px;font-size:15.05px;line-height:18.06px;color:#000;text-shadow:0.17px 0 0 #000,-0.17px 0 0 #000;-webkit-text-stroke:0.25px #000;left:-30.40px;width:1400px;text-align:center;">06</div>
<div class="t " style="top:879.69px;font-size:15.05px;line-height:18.06px;color:#000;text-shadow:0.17px 0 0 #000,-0.17px 0 0 #000;-webkit-text-stroke:0.25px #000;left:66.50px;width:1400px;text-align:center;">99 0 00 00020</div>
<div class="t " style="top:879.69px;font-size:15.05px;line-height:18.06px;color:#000;text-shadow:0.17px 0 0 #000,-0.17px 0 0 #000;-webkit-text-stroke:0.25px #000;left:199.80px;width:1400px;text-align:center;">000</div>
<div class="t " style="top:880.49px;font-size:15.05px;line-height:18.06px;color:#000;text-shadow:0.17px 0 0 #000,-0.17px 0 0 #000;-webkit-text-stroke:0.25px #000;right:36.50px;">36 325,8</div>
<div class="t " style="top:917.49px;font-size:15.05px;line-height:18.06px;color:#000;text-shadow:0.55px 0 0 #000,-0.55px 0 0 #000;-webkit-text-stroke:0.25px #000;left:71.00px;">    Расходы на выплаты персоналу муниципальных органов</div>
<div class="t " style="top:918.19px;font-size:15.05px;line-height:18.06px;color:#000;text-shadow:0.17px 0 0 #000,-0.17px 0 0 #000;-webkit-text-stroke:0.25px #000;left:-75.20px;width:1400px;text-align:center;">01</div>
<div class="t " style="top:918.19px;font-size:15.05px;line-height:18.06px;color:#000;text-shadow:0.17px 0 0 #000,-0.17px 0 0 #000;-webkit-text-stroke:0.25px #000;left:-30.40px;width:1400px;text-align:center;">06</div>
<div class="t " style="top:918.19px;font-size:15.05px;line-height:18.06px;color:#000;text-shadow:0.17px 0 0 #000,-0.17px 0 0 #000;-webkit-text-stroke:0.25px #000;left:66.50px;width:1400px;text-align:center;">99 0 00 00020</div>
<div class="t " style="top:918.19px;font-size:15.05px;line-height:18.06px;color:#000;text-shadow:0.17px 0 0 #000,-0.17px 0 0 #000;-webkit-text-stroke:0.25px #000;left:199.80px;width:1400px;text-align:center;">120</div>
<div class="t " style="top:918.99px;font-size:15.05px;line-height:18.06px;color:#000;text-shadow:0.17px 0 0 #000,-0.17px 0 0 #000;-webkit-text-stroke:0.25px #000;right:36.50px;">30 263,9</div>
<div class="t " style="top:942.99px;font-size:15.05px;line-height:18.06px;color:#000;text-shadow:0.55px 0 0 #000,-0.55px 0 0 #000;-webkit-text-stroke:0.25px #000;left:71.00px;">    Закупка товаров, работ, услуг в сфере информационно-</div>
<div class="t " style="top:962.29px;font-size:15.05px;line-height:18.06px;color:#000;text-shadow:0.55px 0 0 #000,-0.55px 0 0 #000;-webkit-text-stroke:0.25px #000;left:71.00px;">коммуникационных технологий</div>
<div class="t " style="top:943.69px;font-size:15.05px;line-height:18.06px;color:#000;text-shadow:0.17px 0 0 #000,-0.17px 0 0 #000;-webkit-text-stroke:0.25px #000;left:-75.20px;width:1400px;text-align:center;">01</div>
<div class="t " style="top:943.69px;font-size:15.05px;line-height:18.06px;color:#000;text-shadow:0.17px 0 0 #000,-0.17px 0 0 #000;-webkit-text-stroke:0.25px #000;left:-30.40px;width:1400px;text-align:center;">06</div>
<div class="t " style="top:943.69px;font-size:15.05px;line-height:18.06px;color:#000;text-shadow:0.17px 0 0 #000,-0.17px 0 0 #000;-webkit-text-stroke:0.25px #000;left:66.50px;width:1400px;text-align:center;">99 0 00 00020</div>
<div class="t " style="top:943.69px;font-size:15.05px;line-height:18.06px;color:#000;text-shadow:0.17px 0 0 #000,-0.17px 0 0 #000;-webkit-text-stroke:0.25px #000;left:199.80px;width:1400px;text-align:center;">242</div>
<div class="t " style="top:944.49px;font-size:15.05px;line-height:18.06px;color:#000;text-shadow:0.17px 0 0 #000,-0.17px 0 0 #000;-webkit-text-stroke:0.25px #000;right:36.50px;">615,9</div>
<div class="t " style="top:981.49px;font-size:15.05px;line-height:18.06px;color:#000;text-shadow:0.55px 0 0 #000,-0.55px 0 0 #000;-webkit-text-stroke:0.25px #000;left:71.00px;">    Прочая закупка товаров, работ и услуг</div>
<div class="t " style="top:982.19px;font-size:15.05px;line-height:18.06px;color:#000;text-shadow:0.17px 0 0 #000,-0.17px 0 0 #000;-webkit-text-stroke:0.25px #000;left:-75.20px;width:1400px;text-align:center;">01</div>
<div class="t " style="top:982.19px;font-size:15.05px;line-height:18.06px;color:#000;text-shadow:0.17px 0 0 #000,-0.17px 0 0 #000;-webkit-text-stroke:0.25px #000;left:-30.40px;width:1400px;text-align:center;">06</div>
<div class="t " style="top:982.19px;font-size:15.05px;line-height:18.06px;color:#000;text-shadow:0.17px 0 0 #000,-0.17px 0 0 #000;-webkit-text-stroke:0.25px #000;left:66.50px;width:1400px;text-align:center;">99 0 00 00020</div>
<div class="t " style="top:982.19px;font-size:15.05px;line-height:18.06px;color:#000;text-shadow:0.17px 0 0 #000,-0.17px 0 0 #000;-webkit-text-stroke:0.25px #000;left:199.80px;width:1400px;text-align:center;">244</div>
<div class="t " style="top:982.99px;font-size:15.05px;line-height:18.06px;color:#000;text-shadow:0.17px 0 0 #000,-0.17px 0 0 #000;-webkit-text-stroke:0.25px #000;right:36.50px;">5 015,7</div>
<div class="t " style="top:1006.99px;font-size:15.05px;line-height:18.06px;color:#000;text-shadow:0.55px 0 0 #000,-0.55px 0 0 #000;-webkit-text-stroke:0.25px #000;left:71.00px;">    Уплата налога на имущество организаций и земельного налога</div>
<div class="t " style="top:1007.69px;font-size:15.05px;line-height:18.06px;color:#000;text-shadow:0.17px 0 0 #000,-0.17px 0 0 #000;-webkit-text-stroke:0.25px #000;left:-75.20px;width:1400px;text-align:center;">01</div>
<div class="t " style="top:1007.69px;font-size:15.05px;line-height:18.06px;color:#000;text-shadow:0.17px 0 0 #000,-0.17px 0 0 #000;-webkit-text-stroke:0.25px #000;left:-30.40px;width:1400px;text-align:center;">06</div>
<div class="t " style="top:1007.69px;font-size:15.05px;line-height:18.06px;color:#000;text-shadow:0.17px 0 0 #000,-0.17px 0 0 #000;-webkit-text-stroke:0.25px #000;left:66.50px;width:1400px;text-align:center;">99 0 00 00020</div>
<div class="t " style="top:1007.69px;font-size:15.05px;line-height:18.06px;color:#000;text-shadow:0.17px 0 0 #000,-0.17px 0 0 #000;-webkit-text-stroke:0.25px #000;left:199.80px;width:1400px;text-align:center;">851</div>
<div class="t " style="top:1008.49px;font-size:15.05px;line-height:18.06px;color:#000;text-shadow:0.17px 0 0 #000,-0.17px 0 0 #000;-webkit-text-stroke:0.25px #000;right:36.50px;">349,0</div>
<div class="t " style="top:1045.49px;font-size:15.05px;line-height:18.06px;color:#000;text-shadow:0.55px 0 0 #000,-0.55px 0 0 #000;-webkit-text-stroke:0.25px #000;left:71.00px;">    Уплата прочих налогов, сборов</div>
<div class="t " style="top:1046.19px;font-size:15.05px;line-height:18.06px;color:#000;text-shadow:0.17px 0 0 #000,-0.17px 0 0 #000;-webkit-text-stroke:0.25px #000;left:-75.20px;width:1400px;text-align:center;">01</div>
<div class="t " style="top:1046.19px;font-size:15.05px;line-height:18.06px;color:#000;text-shadow:0.17px 0 0 #000,-0.17px 0 0 #000;-webkit-text-stroke:0.25px #000;left:-30.40px;width:1400px;text-align:center;">06</div>
<div class="t " style="top:1046.19px;font-size:15.05px;line-height:18.06px;color:#000;text-shadow:0.17px 0 0 #000,-0.17px 0 0 #000;-webkit-text-stroke:0.25px #000;left:66.50px;width:1400px;text-align:center;">99 0 00 00020</div>
<div class="t " style="top:1046.19px;font-size:15.05px;line-height:18.06px;color:#000;text-shadow:0.17px 0 0 #000,-0.17px 0 0 #000;-webkit-text-stroke:0.25px #000;left:199.80px;width:1400px;text-align:center;">852</div>
<div class="t " style="top:1046.99px;font-size:15.05px;line-height:18.06px;color:#000;text-shadow:0.17px 0 0 #000,-0.17px 0 0 #000;-webkit-text-stroke:0.25px #000;right:36.50px;">37,3</div>
<div class="t " style="top:1070.99px;font-size:15.05px;line-height:18.06px;color:#000;text-shadow:0.55px 0 0 #000,-0.55px 0 0 #000;-webkit-text-stroke:0.25px #000;left:71.00px;">    Уплата иных платежей</div>
<div class="t " style="top:1071.69px;font-size:15.05px;line-height:18.06px;color:#000;text-shadow:0.17px 0 0 #000,-0.17px 0 0 #000;-webkit-text-stroke:0.25px #000;left:-75.20px;width:1400px;text-align:center;">01</div>
<div class="t " style="top:1071.69px;font-size:15.05px;line-height:18.06px;color:#000;text-shadow:0.17px 0 0 #000,-0.17px 0 0 #000;-webkit-text-stroke:0.25px #000;left:-30.40px;width:1400px;text-align:center;">06</div>
<div class="t " style="top:1071.69px;font-size:15.05px;line-height:18.06px;color:#000;text-shadow:0.17px 0 0 #000,-0.17px 0 0 #000;-webkit-text-stroke:0.25px #000;left:66.50px;width:1400px;text-align:center;">99 0 00 00020</div>
<div class="t " style="top:1071.69px;font-size:15.05px;line-height:18.06px;color:#000;text-shadow:0.17px 0 0 #000,-0.17px 0 0 #000;-webkit-text-stroke:0.25px #000;left:199.80px;width:1400px;text-align:center;">853</div>
<div class="t " style="top:1072.49px;font-size:15.05px;line-height:18.06px;color:#000;text-shadow:0.17px 0 0 #000,-0.17px 0 0 #000;-webkit-text-stroke:0.25px #000;right:36.50px;">44,0</div>
<div class="t " style="top:1097.97px;font-size:20.4px;line-height:24.48px;color:#ff0000;font-weight:bold;text-shadow:0.45px 0 0 #700000,-0.45px 0 0 #700000;-webkit-text-stroke:0.6px #700000;paint-order:stroke fill;right:1175.70px;">3</div>
<div class="t " style="top:1097.97px;font-size:20.4px;line-height:24.48px;color:#ff0000;font-weight:bold;text-shadow:0.45px 0 0 #700000,-0.45px 0 0 #700000;-webkit-text-stroke:0.6px #700000;paint-order:stroke fill;left:71.00px;">Администрация Города Томска</div>
<div class="t " style="top:1097.97px;font-size:20.4px;line-height:24.48px;color:#ff0000;font-weight:bold;text-shadow:0.45px 0 0 #700000,-0.45px 0 0 #700000;-webkit-text-stroke:0.6px #700000;paint-order:stroke fill;left:-148.50px;width:1400px;text-align:center;">901</div>
<div class="t " style="top:1097.38px;font-size:20.4px;line-height:24.48px;color:#ff0000;font-weight:bold;text-shadow:0.45px 0 0 #700000,-0.45px 0 0 #700000;-webkit-text-stroke:0.6px #700000;paint-order:stroke fill;right:36.50px;">1 377 052,0</div>
<div class="t " style="top:1125.34px;font-size:18.3px;line-height:21.96px;color:#0000ff;font-weight:bold;text-shadow:0.45px 0 0 #000070,-0.45px 0 0 #000070;-webkit-text-stroke:0.6px #000070;paint-order:stroke fill;left:71.00px;">Общегосударственные вопросы</div>
<div class="t " style="top:1124.54px;font-size:18.3px;line-height:21.96px;color:#0000ff;font-weight:bold;text-shadow:0.45px 0 0 #000070,-0.45px 0 0 #000070;-webkit-text-stroke:0.6px #000070;paint-order:stroke fill;left:-75.20px;width:1400px;text-align:center;">01</div>
<div class="t " style="top:1124.54px;font-size:18.3px;line-height:21.96px;color:#0000ff;font-weight:bold;text-shadow:0.45px 0 0 #000070,-0.45px 0 0 #000070;-webkit-text-stroke:0.6px #000070;paint-order:stroke fill;left:-30.40px;width:1400px;text-align:center;">00</div>
<div class="t " style="top:1124.54px;font-size:18.3px;line-height:21.96px;color:#0000ff;font-weight:bold;text-shadow:0.45px 0 0 #000070,-0.45px 0 0 #000070;-webkit-text-stroke:0.6px #000070;paint-order:stroke fill;left:66.50px;width:1400px;text-align:center;">00 0 00 00000</div>
<div class="t " style="top:1124.54px;font-size:18.3px;line-height:21.96px;color:#0000ff;font-weight:bold;text-shadow:0.45px 0 0 #000070,-0.45px 0 0 #000070;-webkit-text-stroke:0.6px #000070;paint-order:stroke fill;left:199.80px;width:1400px;text-align:center;">000</div>
<div class="t " style="top:1125.04px;font-size:18.3px;line-height:21.96px;color:#0000ff;font-weight:bold;text-shadow:0.45px 0 0 #000070,-0.45px 0 0 #000070;-webkit-text-stroke:0.6px #000070;paint-order:stroke fill;right:36.50px;">436 064,7</div>
<div class="t " style="top:1149.46px;font-size:16.9px;line-height:20.28px;color:#0000ff;font-weight:bold;text-shadow:0.45px 0 0 #000070,-0.45px 0 0 #000070;-webkit-text-stroke:0.6px #000070;paint-order:stroke fill;left:71.00px;">Функционирование высшего должностного лица</div>
<div class="t " style="top:1170.21px;font-size:16.9px;line-height:20.28px;color:#0000ff;font-weight:bold;text-shadow:0.45px 0 0 #000070,-0.45px 0 0 #000070;-webkit-text-stroke:0.6px #000070;paint-order:stroke fill;left:71.00px;">муниципального образования</div>
<div class="t " style="top:1149.46px;font-size:16.9px;line-height:20.28px;color:#0000ff;font-weight:bold;text-shadow:0.45px 0 0 #000070,-0.45px 0 0 #000070;-webkit-text-stroke:0.6px #000070;paint-order:stroke fill;left:-75.20px;width:1400px;text-align:center;">01</div>
<div class="t " style="top:1149.46px;font-size:16.9px;line-height:20.28px;color:#0000ff;font-weight:bold;text-shadow:0.45px 0 0 #000070,-0.45px 0 0 #000070;-webkit-text-stroke:0.6px #000070;paint-order:stroke fill;left:-30.40px;width:1400px;text-align:center;">02</div>
<div class="t " style="top:1149.46px;font-size:16.9px;line-height:20.28px;color:#0000ff;font-weight:bold;text-shadow:0.45px 0 0 #000070,-0.45px 0 0 #000070;-webkit-text-stroke:0.6px #000070;paint-order:stroke fill;left:66.50px;width:1400px;text-align:center;">00 0 00 00000</div>
<div class="t " style="top:1149.46px;font-size:16.9px;line-height:20.28px;color:#0000ff;font-weight:bold;text-shadow:0.45px 0 0 #000070,-0.45px 0 0 #000070;-webkit-text-stroke:0.6px #000070;paint-order:stroke fill;left:199.80px;width:1400px;text-align:center;">000</div>
<div class="t " style="top:1149.46px;font-size:16.9px;line-height:20.28px;color:#0000ff;font-weight:bold;text-shadow:0.45px 0 0 #000070,-0.45px 0 0 #000070;-webkit-text-stroke:0.6px #000070;paint-order:stroke fill;right:36.50px;">2 407,6</div>
<div class="t " style="top:1189.49px;font-size:15.05px;line-height:18.06px;color:#000;text-shadow:0.55px 0 0 #000,-0.55px 0 0 #000;-webkit-text-stroke:0.25px #000;left:71.00px;">    Расходы на выплаты персоналу муниципальных органов</div>
<div class="t " style="top:1190.19px;font-size:15.05px;line-height:18.06px;color:#000;text-shadow:0.17px 0 0 #000,-0.17px 0 0 #000;-webkit-text-stroke:0.25px #000;left:-75.20px;width:1400px;text-align:center;">01</div>
<div class="t " style="top:1190.19px;font-size:15.05px;line-height:18.06px;color:#000;text-shadow:0.17px 0 0 #000,-0.17px 0 0 #000;-webkit-text-stroke:0.25px #000;left:-30.40px;width:1400px;text-align:center;">02</div>
<div class="t " style="top:1190.19px;font-size:15.05px;line-height:18.06px;color:#000;text-shadow:0.17px 0 0 #000,-0.17px 0 0 #000;-webkit-text-stroke:0.25px #000;left:66.50px;width:1400px;text-align:center;">99 0 00 00010</div>
<div class="t " style="top:1190.19px;font-size:15.05px;line-height:18.06px;color:#000;text-shadow:0.17px 0 0 #000,-0.17px 0 0 #000;-webkit-text-stroke:0.25px #000;left:199.80px;width:1400px;text-align:center;">120</div>
<div class="t " style="top:1190.99px;font-size:15.05px;line-height:18.06px;color:#000;text-shadow:0.17px 0 0 #000,-0.17px 0 0 #000;-webkit-text-stroke:0.25px #000;right:36.50px;">2 407,6</div>
<div class="t " style="top:1215.96px;font-size:16.9px;line-height:20.28px;color:#0000ff;font-weight:bold;text-shadow:0.45px 0 0 #000070,-0.45px 0 0 #000070;-webkit-text-stroke:0.6px #000070;paint-order:stroke fill;left:71.00px;">Функционирование местных администраций</div>
<div class="t " style="top:1215.96px;font-size:16.9px;line-height:20.28px;color:#0000ff;font-weight:bold;text-shadow:0.45px 0 0 #000070,-0.45px 0 0 #000070;-webkit-text-stroke:0.6px #000070;paint-order:stroke fill;left:-75.20px;width:1400px;text-align:center;">01</div>
<div class="t " style="top:1215.96px;font-size:16.9px;line-height:20.28px;color:#0000ff;font-weight:bold;text-shadow:0.45px 0 0 #000070,-0.45px 0 0 #000070;-webkit-text-stroke:0.6px #000070;paint-order:stroke fill;left:-30.40px;width:1400px;text-align:center;">04</div>
<div class="t " style="top:1215.96px;font-size:16.9px;line-height:20.28px;color:#0000ff;font-weight:bold;text-shadow:0.45px 0 0 #000070,-0.45px 0 0 #000070;-webkit-text-stroke:0.6px #000070;paint-order:stroke fill;left:66.50px;width:1400px;text-align:center;">00 0 00 00000</div>
<div class="t " style="top:1215.96px;font-size:16.9px;line-height:20.28px;color:#0000ff;font-weight:bold;text-shadow:0.45px 0 0 #000070,-0.45px 0 0 #000070;-webkit-text-stroke:0.6px #000070;paint-order:stroke fill;left:199.80px;width:1400px;text-align:center;">000</div>
<div class="t " style="top:1215.96px;font-size:16.9px;line-height:20.28px;color:#0000ff;font-weight:bold;text-shadow:0.45px 0 0 #000070,-0.45px 0 0 #000070;-webkit-text-stroke:0.6px #000070;paint-order:stroke fill;right:36.50px;">193 335,5</div>
<div class="t " style="top:1240.49px;font-size:15.05px;line-height:18.06px;color:#000;font-style:italic;text-shadow:0.55px 0 0 #000,-0.55px 0 0 #000;-webkit-text-stroke:0.25px #000;left:71.00px;">  - за счет областного бюджета</div>
<div class="t " style="top:1241.19px;font-size:15.05px;line-height:18.06px;color:#000;font-style:italic;text-shadow:0.17px 0 0 #000,-0.17px 0 0 #000;-webkit-text-stroke:0.25px #000;left:-75.20px;width:1400px;text-align:center;">01</div>
<div class="t " style="top:1241.19px;font-size:15.05px;line-height:18.06px;color:#000;font-style:italic;text-shadow:0.17px 0 0 #000,-0.17px 0 0 #000;-webkit-text-stroke:0.25px #000;left:-30.40px;width:1400px;text-align:center;">04</div>
<div class="t " style="top:1241.19px;font-size:15.05px;line-height:18.06px;color:#000;font-style:italic;text-shadow:0.17px 0 0 #000,-0.17px 0 0 #000;-webkit-text-stroke:0.25px #000;left:66.50px;width:1400px;text-align:center;">90 0 00 00000</div>
<div class="t " style="top:1241.19px;font-size:15.05px;line-height:18.06px;color:#000;font-style:italic;text-shadow:0.17px 0 0 #000,-0.17px 0 0 #000;-webkit-text-stroke:0.25px #000;left:199.80px;width:1400px;text-align:center;">000</div>
<div class="t " style="top:1241.99px;font-size:15.05px;line-height:18.06px;color:#000;font-style:italic;text-shadow:0.17px 0 0 #000,-0.17px 0 0 #000;-webkit-text-stroke:0.25px #000;right:36.50px;">1 546,4</div>
<div class="t " style="top:1265.99px;font-size:15.05px;line-height:18.06px;color:#000;text-shadow:0.55px 0 0 #000,-0.55px 0 0 #000;-webkit-text-stroke:0.25px #000;left:71.00px;">   Субвенция на осуществление отдельных государственных</div>
<div class="t " style="top:1285.29px;font-size:15.05px;line-height:18.06px;color:#000;text-shadow:0.55px 0 0 #000,-0.55px 0 0 #000;-webkit-text-stroke:0.25px #000;left:71.00px;">полномочий по регулированию тарифов на перевозки пассажиров</div>
<div class="t " style="top:1304.59px;font-size:15.05px;line-height:18.06px;color:#000;text-shadow:0.55px 0 0 #000,-0.55px 0 0 #000;-webkit-text-stroke:0.25px #000;left:71.00px;">и багажа всеми видами общественного транспорта в городском,</div>
<div class="t " style="top:1323.89px;font-size:15.05px;line-height:18.06px;color:#000;text-shadow:0.55px 0 0 #000,-0.55px 0 0 #000;-webkit-text-stroke:0.25px #000;left:71.00px;">пригородном и междугородном сообщении (кроме</div>
<div class="t " style="top:1343.19px;font-size:15.05px;line-height:18.06px;color:#000;text-shadow:0.55px 0 0 #000,-0.55px 0 0 #000;-webkit-text-stroke:0.25px #000;left:71.00px;">железнодорожного транспорта) по городским, пригородным и</div>
<div class="t " style="top:1362.49px;font-size:15.05px;line-height:18.06px;color:#000;text-shadow:0.55px 0 0 #000,-0.55px 0 0 #000;-webkit-text-stroke:0.25px #000;left:71.00px;">междугородным муниципальным маршрутам в рамках</div>
<div class="t " style="top:1381.79px;font-size:15.05px;line-height:18.06px;color:#000;text-shadow:0.55px 0 0 #000,-0.55px 0 0 #000;-webkit-text-stroke:0.25px #000;left:71.00px;">Государственной программы &quot;Улучшение инвестиционного</div>
<div class="t " style="top:1401.09px;font-size:15.05px;line-height:18.06px;color:#000;text-shadow:0.55px 0 0 #000,-0.55px 0 0 #000;-webkit-text-stroke:0.25px #000;left:71.00px;">климата и развитие экспорта Томской области&quot;</div>
<div class="t " style="top:1266.69px;font-size:15.05px;line-height:18.06px;color:#000;text-shadow:0.17px 0 0 #000,-0.17px 0 0 #000;-webkit-text-stroke:0.25px #000;left:-75.20px;width:1400px;text-align:center;">01</div>
<div class="t " style="top:1266.69px;font-size:15.05px;line-height:18.06px;color:#000;text-shadow:0.17px 0 0 #000,-0.17px 0 0 #000;-webkit-text-stroke:0.25px #000;left:-30.40px;width:1400px;text-align:center;">04</div>
<div class="t " style="top:1266.69px;font-size:15.05px;line-height:18.06px;color:#000;text-shadow:0.17px 0 0 #000,-0.17px 0 0 #000;-webkit-text-stroke:0.25px #000;left:66.50px;width:1400px;text-align:center;">90 0 00 40450</div>
<div class="t " style="top:1266.69px;font-size:15.05px;line-height:18.06px;color:#000;text-shadow:0.17px 0 0 #000,-0.17px 0 0 #000;-webkit-text-stroke:0.25px #000;left:199.80px;width:1400px;text-align:center;">000</div>
<div class="t " style="top:1267.49px;font-size:15.05px;line-height:18.06px;color:#000;text-shadow:0.17px 0 0 #000,-0.17px 0 0 #000;-webkit-text-stroke:0.25px #000;right:36.50px;">18,0</div>
<div class="t " style="top:1431.49px;font-size:15.05px;line-height:18.06px;color:#000;text-shadow:0.55px 0 0 #000,-0.55px 0 0 #000;-webkit-text-stroke:0.25px #000;left:71.00px;">    Расходы на выплаты персоналу муниципальных органов</div>
<div class="t " style="top:1432.19px;font-size:15.05px;line-height:18.06px;color:#000;text-shadow:0.17px 0 0 #000,-0.17px 0 0 #000;-webkit-text-stroke:0.25px #000;left:-75.20px;width:1400px;text-align:center;">01</div>
<div class="t " style="top:1432.19px;font-size:15.05px;line-height:18.06px;color:#000;text-shadow:0.17px 0 0 #000,-0.17px 0 0 #000;-webkit-text-stroke:0.25px #000;left:-30.40px;width:1400px;text-align:center;">04</div>
<div class="t " style="top:1432.19px;font-size:15.05px;line-height:18.06px;color:#000;text-shadow:0.17px 0 0 #000,-0.17px 0 0 #000;-webkit-text-stroke:0.25px #000;left:66.50px;width:1400px;text-align:center;">90 0 00 40450</div>
<div class="t " style="top:1432.19px;font-size:15.05px;line-height:18.06px;color:#000;text-shadow:0.17px 0 0 #000,-0.17px 0 0 #000;-webkit-text-stroke:0.25px #000;left:199.80px;width:1400px;text-align:center;">120</div>
<div class="t " style="top:1432.99px;font-size:15.05px;line-height:18.06px;color:#000;text-shadow:0.17px 0 0 #000,-0.17px 0 0 #000;-webkit-text-stroke:0.25px #000;right:36.50px;">16,4</div>
<div class="t " style="top:1456.99px;font-size:15.05px;line-height:18.06px;color:#000;text-shadow:0.55px 0 0 #000,-0.55px 0 0 #000;-webkit-text-stroke:0.25px #000;left:71.00px;">    Прочая закупка товаров, работ и услуг</div>
<div class="t " style="top:1457.69px;font-size:15.05px;line-height:18.06px;color:#000;text-shadow:0.17px 0 0 #000,-0.17px 0 0 #000;-webkit-text-stroke:0.25px #000;left:-75.20px;width:1400px;text-align:center;">01</div>
<div class="t " style="top:1457.69px;font-size:15.05px;line-height:18.06px;color:#000;text-shadow:0.17px 0 0 #000,-0.17px 0 0 #000;-webkit-text-stroke:0.25px #000;left:-30.40px;width:1400px;text-align:center;">04</div>
<div class="t " style="top:1457.69px;font-size:15.05px;line-height:18.06px;color:#000;text-shadow:0.17px 0 0 #000,-0.17px 0 0 #000;-webkit-text-stroke:0.25px #000;left:66.50px;width:1400px;text-align:center;">90 0 00 40450</div>
<div class="t " style="top:1457.69px;font-size:15.05px;line-height:18.06px;color:#000;text-shadow:0.17px 0 0 #000,-0.17px 0 0 #000;-webkit-text-stroke:0.25px #000;left:199.80px;width:1400px;text-align:center;">244</div>
<div class="t " style="top:1458.49px;font-size:15.05px;line-height:18.06px;color:#000;text-shadow:0.17px 0 0 #000,-0.17px 0 0 #000;-webkit-text-stroke:0.25px #000;right:36.50px;">1,6</div>
<div class="t " style="top:1482.49px;font-size:15.05px;line-height:18.06px;color:#000;text-shadow:0.55px 0 0 #000,-0.55px 0 0 #000;-webkit-text-stroke:0.25px #000;left:71.00px;">    Субвенция на осуществление отдельных государственных</div>
<div class="t " style="top:1501.79px;font-size:15.05px;line-height:18.06px;color:#000;text-shadow:0.55px 0 0 #000,-0.55px 0 0 #000;-webkit-text-stroke:0.25px #000;left:71.00px;">полномочий по созданию и обеспечению деятельности комиссий</div>
<div class="t " style="top:1521.09px;font-size:15.05px;line-height:18.06px;color:#000;text-shadow:0.55px 0 0 #000,-0.55px 0 0 #000;-webkit-text-stroke:0.25px #000;left:71.00px;">по делам несовершеннолетних и защите их прав в рамках</div>
<div class="t " style="top:1540.39px;font-size:15.05px;line-height:18.06px;color:#000;text-shadow:0.55px 0 0 #000,-0.55px 0 0 #000;-webkit-text-stroke:0.25px #000;left:71.00px;">Государственной программы &quot;Социальная поддержка населения</div>
<div class="t " style="top:1559.69px;font-size:15.05px;line-height:18.06px;color:#000;text-shadow:0.55px 0 0 #000,-0.55px 0 0 #000;-webkit-text-stroke:0.25px #000;left:71.00px;">Томской области&quot;</div>
<div class="t " style="top:1483.19px;font-size:15.05px;line-height:18.06px;color:#000;text-shadow:0.17px 0 0 #000,-0.17px 0 0 #000;-webkit-text-stroke:0.25px #000;left:-75.20px;width:1400px;text-align:center;">01</div>
<div class="t " style="top:1483.19px;font-size:15.05px;line-height:18.06px;color:#000;text-shadow:0.17px 0 0 #000,-0.17px 0 0 #000;-webkit-text-stroke:0.25px #000;left:-30.40px;width:1400px;text-align:center;">04</div>
<div class="t " style="top:1483.19px;font-size:15.05px;line-height:18.06px;color:#000;text-shadow:0.17px 0 0 #000,-0.17px 0 0 #000;-webkit-text-stroke:0.25px #000;left:66.50px;width:1400px;text-align:center;">90 0 00 40730</div>
<div class="t " style="top:1483.19px;font-size:15.05px;line-height:18.06px;color:#000;text-shadow:0.17px 0 0 #000,-0.17px 0 0 #000;-webkit-text-stroke:0.25px #000;left:199.80px;width:1400px;text-align:center;">000</div>
<div class="t " style="top:1483.99px;font-size:15.05px;line-height:18.06px;color:#000;text-shadow:0.17px 0 0 #000,-0.17px 0 0 #000;-webkit-text-stroke:0.25px #000;right:36.50px;">524,1</div>
<div class="t " style="top:1579.49px;font-size:15.05px;line-height:18.06px;color:#000;text-shadow:0.55px 0 0 #000,-0.55px 0 0 #000;-webkit-text-stroke:0.25px #000;left:71.00px;">    Расходы на выплаты персоналу муниципальных органов</div>
<div class="t " style="top:1580.19px;font-size:15.05px;line-height:18.06px;color:#000;text-shadow:0.17px 0 0 #000,-0.17px 0 0 #000;-webkit-text-stroke:0.25px #000;left:-75.20px;width:1400px;text-align:center;">01</div>
<div class="t " style="top:1580.19px;font-size:15.05px;line-height:18.06px;color:#000;text-shadow:0.17px 0 0 #000,-0.17px 0 0 #000;-webkit-text-stroke:0.25px #000;left:-30.40px;width:1400px;text-align:center;">04</div>
<div class="t " style="top:1580.19px;font-size:15.05px;line-height:18.06px;color:#000;text-shadow:0.17px 0 0 #000,-0.17px 0 0 #000;-webkit-text-stroke:0.25px #000;left:66.50px;width:1400px;text-align:center;">90 0 00 40730</div>
<div class="t " style="top:1580.19px;font-size:15.05px;line-height:18.06px;color:#000;text-shadow:0.17px 0 0 #000,-0.17px 0 0 #000;-webkit-text-stroke:0.25px #000;left:199.80px;width:1400px;text-align:center;">120</div>
<div class="t " style="top:1580.99px;font-size:15.05px;line-height:18.06px;color:#000;text-shadow:0.17px 0 0 #000,-0.17px 0 0 #000;-webkit-text-stroke:0.25px #000;right:36.50px;">476,5</div>
<div class="t " style="top:1604.99px;font-size:15.05px;line-height:18.06px;color:#000;text-shadow:0.55px 0 0 #000,-0.55px 0 0 #000;-webkit-text-stroke:0.25px #000;left:71.00px;">    Прочая закупка товаров, работ и услуг</div>
<div class="t " style="top:1605.69px;font-size:15.05px;line-height:18.06px;color:#000;text-shadow:0.17px 0 0 #000,-0.17px 0 0 #000;-webkit-text-stroke:0.25px #000;left:-75.20px;width:1400px;text-align:center;">01</div>
<div class="t " style="top:1605.69px;font-size:15.05px;line-height:18.06px;color:#000;text-shadow:0.17px 0 0 #000,-0.17px 0 0 #000;-webkit-text-stroke:0.25px #000;left:-30.40px;width:1400px;text-align:center;">04</div>
<div class="t " style="top:1605.69px;font-size:15.05px;line-height:18.06px;color:#000;text-shadow:0.17px 0 0 #000,-0.17px 0 0 #000;-webkit-text-stroke:0.25px #000;left:66.50px;width:1400px;text-align:center;">90 0 00 40730</div>
<div class="t " style="top:1605.69px;font-size:15.05px;line-height:18.06px;color:#000;text-shadow:0.17px 0 0 #000,-0.17px 0 0 #000;-webkit-text-stroke:0.25px #000;left:199.80px;width:1400px;text-align:center;">244</div>
<div class="t " style="top:1606.49px;font-size:15.05px;line-height:18.06px;color:#000;text-shadow:0.17px 0 0 #000,-0.17px 0 0 #000;-webkit-text-stroke:0.25px #000;right:36.50px;">47,6</div>
<div class="t " style="top:1630.49px;font-size:15.05px;line-height:18.06px;color:#000;text-shadow:0.55px 0 0 #000,-0.55px 0 0 #000;-webkit-text-stroke:0.25px #000;left:71.00px;">  Субвенция на осуществление отдельных государственных</div>
<div class="t " style="top:1649.79px;font-size:15.05px;line-height:18.06px;color:#000;text-shadow:0.55px 0 0 #000,-0.55px 0 0 #000;-webkit-text-stroke:0.25px #000;left:71.00px;">полномочий по опеке и попечительству в отношении</div>
<div class="t " style="top:1669.09px;font-size:15.05px;line-height:18.06px;color:#000;text-shadow:0.55px 0 0 #000,-0.55px 0 0 #000;-webkit-text-stroke:0.25px #000;left:71.00px;">несовершеннолетних граждан в рамках Государственной</div>
<div class="t " style="top:1688.39px;font-size:15.05px;line-height:18.06px;color:#000;text-shadow:0.55px 0 0 #000,-0.55px 0 0 #000;-webkit-text-stroke:0.25px #000;left:71.00px;">программы &quot;Социальная поддержка населения Томской области&quot;</div>
<div class="t " style="top:1631.19px;font-size:15.05px;line-height:18.06px;color:#000;text-shadow:0.17px 0 0 #000,-0.17px 0 0 #000;-webkit-text-stroke:0.25px #000;left:-75.20px;width:1400px;text-align:center;">01</div>
<div class="t " style="top:1631.19px;font-size:15.05px;line-height:18.06px;color:#000;text-shadow:0.17px 0 0 #000,-0.17px 0 0 #000;-webkit-text-stroke:0.25px #000;left:-30.40px;width:1400px;text-align:center;">04</div>
<div class="t " style="top:1631.19px;font-size:15.05px;line-height:18.06px;color:#000;text-shadow:0.17px 0 0 #000,-0.17px 0 0 #000;-webkit-text-stroke:0.25px #000;left:66.50px;width:1400px;text-align:center;">90 0 00 40780</div>
<div class="t " style="top:1631.19px;font-size:15.05px;line-height:18.06px;color:#000;text-shadow:0.17px 0 0 #000,-0.17px 0 0 #000;-webkit-text-stroke:0.25px #000;left:199.80px;width:1400px;text-align:center;">000</div>
<div class="t " style="top:1631.99px;font-size:15.05px;line-height:18.06px;color:#000;text-shadow:0.17px 0 0 #000,-0.17px 0 0 #000;-webkit-text-stroke:0.25px #000;right:36.50px;">998,9</div>
</div>
</body></html>
